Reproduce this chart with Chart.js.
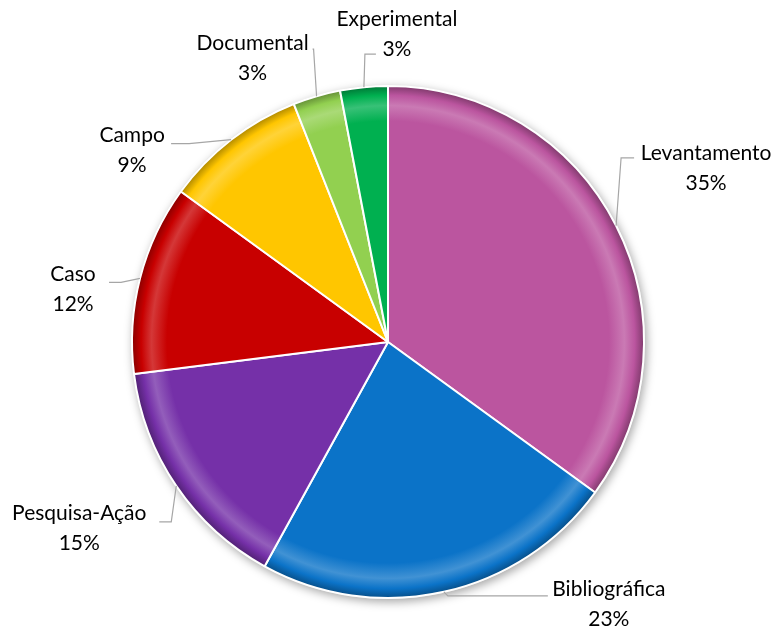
<!DOCTYPE html>
<html>
<head>
<meta charset="utf-8">
<script src="https://cdn.jsdelivr.net/npm/chart.js@4.4.0/dist/chart.umd.min.js"></script>
<style>
  html, body { margin: 0; padding: 0; background: #fff; }
  #pieChart { display: block; }
</style>
</head>
<body>
<canvas id="pieChart" width="781" height="629"></canvas>
<script>
const categories = ['Levantamento', 'Bibliográfica', 'Pesquisa-Ação', 'Caso', 'Campo', 'Documental', 'Experimental'];
const shares = [35, 23, 15, 12, 9, 3, 3];
const sliceColors = ['#BB559F', '#0B73C8', '#7530A8', '#C80000', '#FFC600', '#92D050', '#00B050'];

// label layout, relative to the slice's outer mid point: text centre, elbow, line end
const labelLayout = [
    { text: [90, -73], elbow: [5, -68], end: [18, -68] },
    { text: [165, -3], elbow: [4, 4], end: [104, 4] },
    { text: [-97, 27], elbow: [-5, 36], end: [-17, 36] },
    { text: [-67, -4], elbow: [-19, 4], end: [-31, 4] },
    { text: [-99, -4], elbow: [-42, 4], end: [-60, 4] },
    { text: [-64, -53], elbow: [-3, -47], end: [-4, -47] },
    { text: [33, -68], elbow: [1, -33], end: [12, -33] }
];

function shade(hex, amt) {
    const n = parseInt(hex.slice(1), 16);
    let r = n >> 16, g = (n >> 8) & 255, b = n & 255;
    const f = c => Math.max(0, Math.min(255, Math.round(amt > 0 ? c + (255 - c) * amt : c * (1 + amt))));
    return `rgb(${f(r)}, ${f(g)}, ${f(b)})`;
}

function bevelFill(context) {
    const base = sliceColors[context.dataIndex];
    const area = context.chart.chartArea;
    if (!area) return base;
    const cx = (area.left + area.right) / 2, cy = (area.top + area.bottom) / 2;
    const r = Math.min(area.right - area.left, area.bottom - area.top) / 2;
    const g = context.chart.ctx.createRadialGradient(cx, cy, 0, cx, cy, r);
    g.addColorStop(0, base);
    g.addColorStop(0.86, base);
    g.addColorStop(0.92, shade(base, 0.22));
    g.addColorStop(0.96, base);
    g.addColorStop(1, shade(base, -0.35));
    return g;
}

const pieShadow = {
    id: 'pieShadow',
    beforeDatasetsDraw(chart) {
        const arc = chart.getDatasetMeta(0).data[0];
        if (!arc) return;
        const c = chart.ctx;
        c.save();
        c.shadowColor = 'rgba(0,0,0,0.35)';
        c.shadowBlur = 10;
        c.shadowOffsetX = 2;
        c.shadowOffsetY = 3;
        c.fillStyle = '#ddd';
        c.beginPath();
        c.arc(arc.x, arc.y, arc.outerRadius + 1, 0, Math.PI * 2);
        c.fill();
        c.restore();
    }
};

const outsideLabels = {
    id: 'outsideLabels',
    afterDatasetsDraw(chart) {
        const c = chart.ctx;
        const total = shares.reduce((a, b) => a + b, 0);
        chart.getDatasetMeta(0).data.forEach((arc, i) => {
            const mid = (arc.startAngle + arc.endAngle) / 2;
            const px = arc.x + Math.cos(mid) * arc.outerRadius;
            const py = arc.y + Math.sin(mid) * arc.outerRadius;
            const lay = labelLayout[i];
            c.save();
            c.strokeStyle = '#a6a6a6';
            c.lineWidth = 1.2;
            c.beginPath();
            c.moveTo(px, py);
            c.lineTo(px + lay.elbow[0], py + lay.elbow[1]);
            c.lineTo(px + lay.end[0], py + lay.end[1]);
            c.stroke();
            c.fillStyle = '#000';
            c.font = '21px Lato';
            c.textAlign = 'center';
            c.textBaseline = 'middle';
            const tx = px + lay.text[0], ty = py + lay.text[1];
            c.fillText(categories[i], tx, ty);
            c.fillText(Math.round(shares[i] / total * 100) + '%', tx, ty + 30);
            c.restore();
        });
    }
};

new Chart(document.getElementById('pieChart').getContext('2d'), {
    type: 'pie',
    data: {
        labels: categories,
        datasets: [{
            data: shares,
            backgroundColor: bevelFill,
            borderColor: '#ffffff',
            borderWidth: 2
        }]
    },
    options: {
        responsive: false,
        animation: false,
        layout: { padding: { top: 85, bottom: 30, left: 131, right: 136 } },
        plugins: {
            legend: { display: false },
            tooltip: { enabled: false }
        }
    },
    plugins: [pieShadow, outsideLabels]
});
</script>
</body>
</html>
